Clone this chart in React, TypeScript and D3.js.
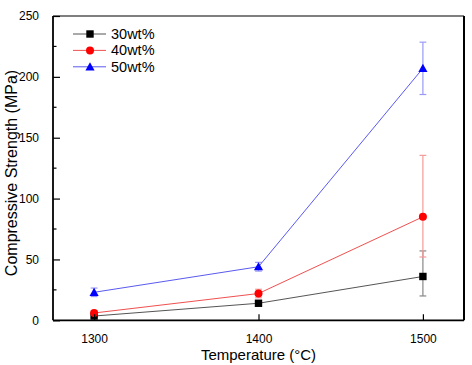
import React, { useEffect, useRef } from 'react';
import * as d3 from 'd3';

// temperatures (°C)
const temps = [1300, 1400, 1500];
const seriesNames = ['30wt%', '40wt%', '50wt%'];

// compressive strength (MPa) for each series
const s30 = [3.5, 14, 36];
const s40 = [6, 22, 85];
const s50 = [23, 44, 207];

// error bars (up / down)
const s30ErrUp = [1, 1.5, 21];
const s30ErrDown = [1, 1.5, 16];
const s40ErrUp = [2, 3.5, 50.5];
const s40ErrDown = [2, 3.5, 33];
const s50ErrUp = [3.5, 3.6, 21.5];
const s50ErrDown = [3.5, 3.6, 21.5];

const yTicks = [0, 50, 100, 150, 200, 250];

const App = () => {
  const ref = useRef<SVGSVGElement>(null);

  useEffect(() => {
    const svg = d3.select(ref.current);
    svg.selectAll('*').remove();

    const width = 472;
    const height = 365;
    const m = { left: 53, top: 16, right: 464, bottom: 320.3 };
    const font = 'Arial, "Liberation Sans", sans-serif';

    const x = d3.scaleLinear().domain([1275, 1525]).range([m.left, m.right]);
    const y = d3.scaleLinear().domain([0, 250]).range([m.bottom, m.top]);

    svg.append('rect').attr('width', width).attr('height', height).attr('fill', '#fff');

    const series = [
      { name: seriesNames[0], vals: s30, up: s30ErrUp, down: s30ErrDown, marker: '#000', line: '#555', err: '#888', shape: 'square' },
      { name: seriesNames[1], vals: s40, up: s40ErrUp, down: s40ErrDown, marker: '#f00', line: '#f05050', err: '#f59a9a', shape: 'circle' },
      { name: seriesNames[2], vals: s50, up: s50ErrUp, down: s50ErrDown, marker: '#00f', line: '#5a5af0', err: '#9a9af5', shape: 'triangle' },
    ];

    const drawMarker = (g, shape, cx, cy, color) => {
      if (shape === 'square') {
        g.append('rect').attr('x', cx - 3.7).attr('y', cy - 3.7).attr('width', 7.4).attr('height', 7.4).attr('fill', color);
      } else if (shape === 'circle') {
        g.append('circle').attr('cx', cx).attr('cy', cy).attr('r', 4).attr('fill', color);
      } else {
        g.append('path')
          .attr('d', `M${cx},${cy - 4.6}L${cx + 4.6},${cy + 3.6}L${cx - 4.6},${cy + 3.6}Z`)
          .attr('fill', color);
      }
    };

    // error bars
    series.forEach(s => {
      const g = svg.append('g');
      temps.forEach((t, i) => {
        const cx = x(t);
        const top = y(s.vals[i] + s.up[i]);
        const bot = y(s.vals[i] - s.down[i]);
        g.append('line').attr('x1', cx).attr('x2', cx).attr('y1', top).attr('y2', bot).attr('stroke', s.err).attr('stroke-width', 1.2);
        [top, bot].forEach(yy => {
          g.append('line').attr('x1', cx - 3.4).attr('x2', cx + 3.4).attr('y1', yy).attr('y2', yy).attr('stroke', s.err).attr('stroke-width', 1.2);
        });
      });
    });

    // lines + markers
    series.forEach(s => {
      const line = d3.line<number>().x((d, i) => x(temps[i])).y(d => y(d));
      svg.append('path').attr('d', line(s.vals)).attr('fill', 'none').attr('stroke', s.line).attr('stroke-width', 1);
      const g = svg.append('g');
      temps.forEach((t, i) => drawMarker(g, s.shape, x(t), y(s.vals[i]), s.marker));
    });

    // frame
    svg.append('line').attr('x1', m.left).attr('x2', m.right).attr('y1', m.top).attr('y2', m.top).attr('stroke', '#000').attr('stroke-width', 1.2);
    svg.append('line').attr('x1', m.right).attr('x2', m.right).attr('y1', m.top).attr('y2', m.bottom).attr('stroke', '#000').attr('stroke-width', 2);

    // y axis
    const yAxis = d3.axisLeft(y).tickValues(yTicks).tickSize(-7).tickPadding(14).tickFormat(d3.format('d'));
    const ya = svg.append('g').attr('transform', `translate(${m.left},0)`).call(yAxis);
    ya.select('.domain').attr('stroke-width', 1.8).attr('d', `M0,${m.top}V${m.bottom}`);
    ya.selectAll('text').attr('font-family', font).attr('font-size', 12).attr('fill', '#000');
    ya.selectAll('line').attr('stroke-width', 1.2);
    const yMinor = d3.range(25, 250, 50);
    ya.selectAll('.minor').data(yMinor).enter().append('line')
      .attr('x1', 0).attr('x2', 3.5).attr('y1', d => y(d)).attr('y2', d => y(d))
      .attr('stroke', '#000').attr('stroke-width', 1.2);

    // x axis
    const xAxis = d3.axisBottom(x).tickValues(temps).tickSize(-6).tickPadding(14).tickFormat(d3.format('d'));
    const xa = svg.append('g').attr('transform', `translate(0,${m.bottom})`).call(xAxis);
    xa.select('.domain').attr('stroke-width', 1.8).attr('d', `M${m.left},0H${m.right}`);
    xa.selectAll('text').attr('font-family', font).attr('font-size', 12).attr('fill', '#000');
    xa.selectAll('line').attr('stroke-width', 1.2);

    // axis titles
    svg.append('text').attr('x', (m.left + m.right) / 2).attr('y', 360).attr('text-anchor', 'middle')
      .attr('font-family', font).attr('font-size', 15).text('Temperature (°C)');
    svg.append('text').attr('transform', `translate(17,173) rotate(-90)`).attr('text-anchor', 'middle')
      .attr('font-family', font).attr('font-size', 16).text('Compressive Strength (MPa)');

    // legend
    const leg = svg.append('g');
    series.forEach((s, i) => {
      const ly = 34 + i * 16.4;
      leg.append('line').attr('x1', 73).attr('x2', 106).attr('y1', ly).attr('y2', ly).attr('stroke', s.line).attr('stroke-width', 1);
      drawMarker(leg, s.shape, 90, ly, s.marker);
      leg.append('text').attr('x', 111).attr('y', ly + 5).attr('font-family', font).attr('font-size', 14.5).text(s.name);
    });
  }, []);

  return (
    <svg ref={ref} width={472} height={365} style={{ position: 'absolute', left: 0, top: 0 }} />
  );
};

export default App;
